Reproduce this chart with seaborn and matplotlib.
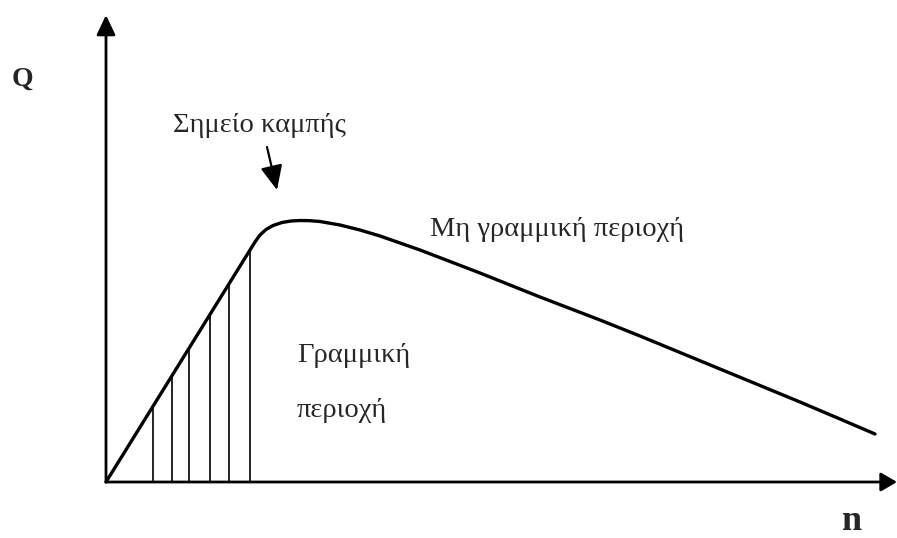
import matplotlib
matplotlib.use('Agg')
import matplotlib.pyplot as plt
import numpy as np
import seaborn as sns

# curve of Q against n (arbitrary units)
n_curve = [0.0, 1.44, 1.49, 1.54, 1.60, 1.67, 1.76, 1.85, 1.94, 2.04, 2.14,
           2.34, 2.54, 2.74, 2.94, 3.14, 3.44, 3.74, 4.04, 4.34, 4.64, 4.94,
           5.34, 5.74, 6.14, 6.54, 6.94, 7.34, 7.69]
q_curve = [0.0, 2.32, 2.40, 2.47, 2.525, 2.565, 2.595, 2.61, 2.615, 2.613, 2.605,
           2.57, 2.52, 2.46, 2.39, 2.32, 2.205, 2.09, 1.97, 1.85, 1.735, 1.62,
           1.46, 1.295, 1.13, 0.965, 0.80, 0.63, 0.48]

# hatching under the linear part
hatch_n = [0.47, 0.66, 0.83, 1.04, 1.23, 1.44]
hatch_q = [0.76, 1.06, 1.34, 1.68, 1.98, 2.32]

label_q = 'Q'
label_n = 'n'
label_inflection = 'Σημείο καμπής'
label_nonlinear = 'Μη γραμμική περιοχή'
label_linear = ['Γραμμική', 'περιοχή']

sns.set_theme(style='white')
plt.rcParams['font.family'] = ['Liberation Serif', 'DejaVu Serif']

fig = plt.figure(figsize=(8.97, 5.38), dpi=100)
ax = fig.add_axes([0, 0, 1, 1])
ax.set_xlim(-1.06, 7.91)
ax.set_ylim(-0.56, 4.82)
ax.axis('off')

# axes with arrow heads
ax.annotate('', xy=(7.91, 0), xytext=(0, 0),
            arrowprops=dict(arrowstyle='-|>,head_length=0.65,head_width=0.38',
                            mutation_scale=15, lw=2.0, color='black',
                            shrinkA=0, shrinkB=0))
ax.annotate('', xy=(0, 4.67), xytext=(0, 0),
            arrowprops=dict(arrowstyle='-|>,head_length=0.8,head_width=0.38',
                            mutation_scale=15, lw=2.0, color='black',
                            shrinkA=0, shrinkB=0))

sns.lineplot(x=n_curve, y=q_curve, ax=ax, color='black', lw=2.4,
             estimator=None, sort=False)
ax.vlines(hatch_n, 0, hatch_q, color='black', lw=1.2)

# arrow pointing at the inflection point
ax.annotate('', xy=(1.71, 2.92), xytext=(1.61, 3.35),
            arrowprops=dict(arrowstyle='-|>,head_length=1.0,head_width=0.45',
                            mutation_scale=15, lw=1.6, color='black',
                            shrinkA=0, shrinkB=0))

ax.text(-0.94, 3.96, label_q, fontsize=20, fontweight='bold', va='baseline')
ax.text(7.36, -0.48, label_n, fontsize=26, fontweight='bold', va='baseline')
ax.text(0.67, 3.50, label_inflection, fontsize=20.5, va='baseline')
ax.text(3.24, 2.46, label_nonlinear, fontsize=20.5, va='baseline')
ax.text(1.91, 1.20, label_linear[0], fontsize=20.5, va='baseline')
ax.text(1.91, 0.65, label_linear[1], fontsize=20.5, va='baseline')

fig.savefig('out.png', dpi=100, facecolor='white')
